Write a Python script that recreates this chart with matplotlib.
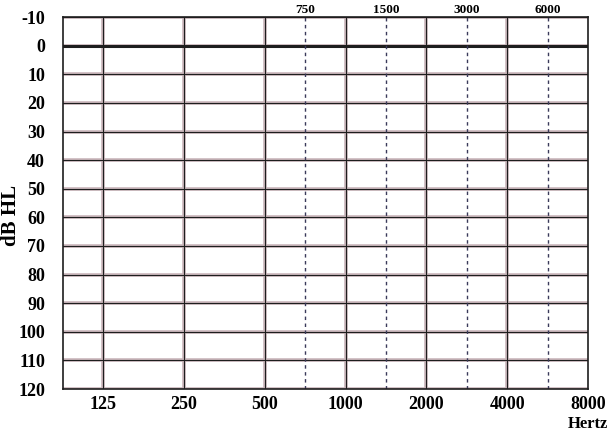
import matplotlib.pyplot as plt
import numpy as np
from matplotlib.transforms import blended_transform_factory

# audiogram grid values
octave_freqs = [125, 250, 500, 1000, 2000, 4000, 8000]
octave_labels = ['125', '250', '500', '1000', '2000', '4000', '8000']
inter_freqs = [750, 1500, 3000, 6000]
inter_labels = ['750', '1500', '3000', '6000']
db_levels = [-10, 0, 10, 20, 30, 40, 50, 60, 70, 80, 90, 100, 110, 120]

serif = ['Liberation Serif', 'DejaVu Serif']

fig = plt.figure(figsize=(6.14, 4.32), dpi=100)
ax = fig.add_axes([0.1026, 0.0995, 0.855, 0.861])
ax.set_xscale('log')
ax.set_xlim(125 / np.sqrt(2), 8000)
ax.set_ylim(120, -10)

halo = '#c9b5ba'
core = '#1e1e1e'

for d in db_levels:
    ax.axhline(d, color=halo, lw=2.6, zorder=1)
    ax.axhline(d, color=core, lw=2.2 if d == 0 else 0.8, zorder=2)

for f in octave_freqs[:-1]:
    ax.axvline(f, color=halo, lw=2.6, zorder=1)
    ax.axvline(f, color=core, lw=0.8, zorder=2)

# this chart puts the half-octave lines midway between the octaves
inter_pos = [f / 1.5 * np.sqrt(2) for f in inter_freqs]
for x in inter_pos:
    ax.axvline(x, color='#3a3a5a', lw=1.0, ls=(0, (2.5, 2.5)), zorder=2)

for s in ax.spines.values():
    s.set_color(core)
    s.set_linewidth(1.2)

ax.set_xticks(octave_freqs)
ax.set_xticklabels(octave_labels)
ax.xaxis.set_minor_locator(plt.NullLocator())
ax.set_yticks(db_levels)
ax.set_yticklabels([str(d) for d in db_levels])
ax.tick_params(axis='both', length=0)
ax.tick_params(axis='x', pad=5)
ax.tick_params(axis='y', pad=13)
for lab in ax.get_xticklabels() + ax.get_yticklabels():
    lab.set_fontfamily(serif)
    lab.set_fontweight('bold')
    lab.set_fontsize(13)

# inter-octave labels along the top
for x, lab in zip(inter_pos, inter_labels):
    ax.annotate(lab, xy=(x, -10), xytext=(0, 0.5), textcoords='offset points',
                ha='center', va='bottom', fontsize=9.5, fontweight='bold',
                family=serif, annotation_clip=False)

ax.set_ylabel('dB HL', fontsize=15, fontweight='bold', family=serif)
ax.yaxis.set_label_coords(-0.08, 0.468)

trans = blended_transform_factory(ax.transData, ax.transAxes)
ax.text(8000, -0.094, 'Hertz', transform=trans, ha='center', va='center',
        fontsize=12, fontweight='bold', family=serif)

fig.savefig('out.png', dpi=100)
